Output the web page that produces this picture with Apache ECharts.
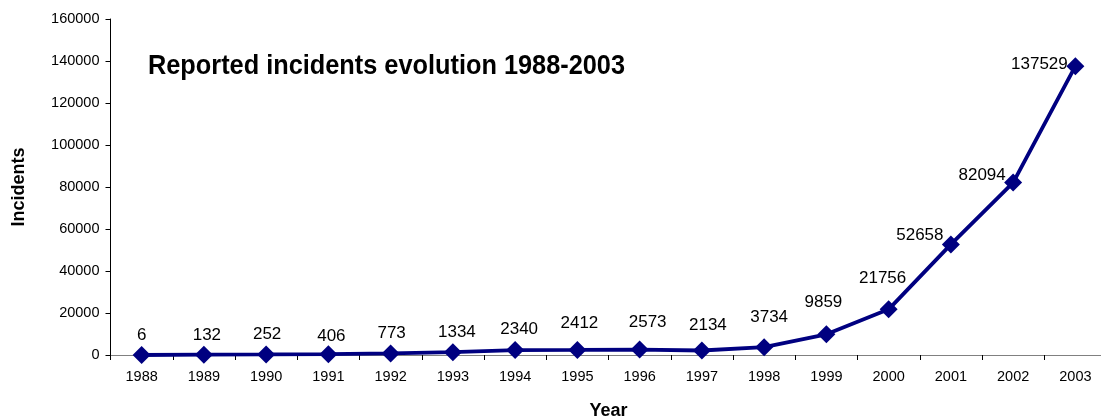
<!DOCTYPE html>
<html>
<head>
<meta charset="utf-8">
<script src="https://cdn.jsdelivr.net/npm/echarts@6/dist/echarts.min.js"></script>
<style>html,body{margin:0;padding:0;background:#fff}#c{width:1101px;height:419px}</style>
</head>
<body>
<div id="c"></div>
<script>
const years = ['1988','1989','1990','1991','1992','1993','1994','1995','1996','1997','1998','1999','2000','2001','2002','2003'];
const incidents = [6,132,252,406,773,1334,2340,2412,2573,2134,3734,9859,21756,52658,82094,137529];
const yTicks = [0,20000,40000,60000,80000,100000,120000,140000,160000];
const titleText = 'Reported incidents evolution 1988-2003';
const labelOffsets = [[0,-20],[3,-19],[1,-20],[3,-18],[1,-20],[4,-20],[4,-21],[2,-27],[8,-27],[6,-25],[5,-30],[-3,-32],[-6,-31],[-31,-9],[-31,-7],[-36,-2]];

const font = 'Arial, "Liberation Sans", sans-serif';
const titleFont = 'bold 28px "Liberation Sans", Arial, sans-serif';
const ctx = document.createElement('canvas').getContext('2d');
ctx.font = titleFont;
const titleScale = 477 / ctx.measureText(titleText).width;

const chart = echarts.init(document.getElementById('c'), null, {renderer:'canvas'});
chart.setOption({
  animation:false,
  backgroundColor:'#fff',
  graphic:[{
    type:'text', x:148, y:66, scaleX:titleScale, scaleY:1, z:10,
    style:{text:titleText, font:titleFont, fill:'#000', textAlign:'left', textVerticalAlign:'middle'}
  }],
  grid:{left:110.5,width:996,top:19,height:336,containLabel:false,outerBoundsMode:'none'},
  xAxis:{
    type:'category',data:years,boundaryGap:true,
    name:'Year',nameLocation:'middle',nameGap:47,
    nameTextStyle:{fontFamily:font,fontWeight:'bold',fontSize:18,color:'#000'},
    axisLine:{lineStyle:{color:'#808080',width:1}},
    axisTick:{show:true,length:5,inside:false,alignWithLabel:false,lineStyle:{color:'#000'}},
    axisLabel:{fontFamily:font,fontSize:14.5,color:'#000',margin:14,interval:0},
    splitLine:{show:false}
  },
  yAxis:{
    type:'value',min:yTicks[0],max:yTicks[yTicks.length-1],interval:yTicks[1]-yTicks[0],
    name:'Incidents',nameLocation:'middle',nameGap:82,nameRotate:90,
    nameTextStyle:{fontFamily:font,fontWeight:'bold',fontSize:18,color:'#000'},
    axisLine:{show:true,lineStyle:{color:'#000',width:1}},
    axisTick:{show:true,length:5,lineStyle:{color:'#000'}},
    axisLabel:{fontFamily:font,fontSize:14.5,color:'#000',margin:11,formatter:v=>String(v)},
    splitLine:{show:false}
  },
  series:[{
    type:'line',
    data:incidents.map((v,i)=>({value:v,label:{offset:labelOffsets[i]}})),
    symbol:'diamond',symbolSize:18,
    lineStyle:{color:'#000080',width:3.8},
    itemStyle:{color:'#000080'},
    label:{show:true,position:'inside',fontFamily:font,fontSize:17,color:'#000'}
  }]
});
</script>
</body>
</html>
